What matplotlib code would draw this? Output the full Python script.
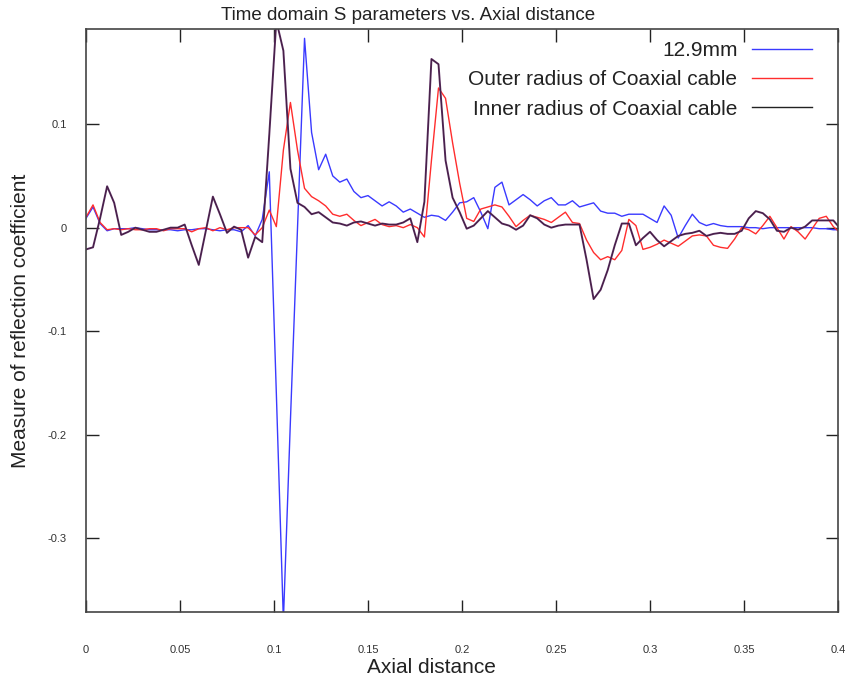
import numpy as np
import matplotlib.pyplot as plt
from matplotlib.lines import Line2D

plt.rcParams['font.family'] = ['Liberation Sans', 'DejaVu Sans']
plt.rcParams['axes.unicode_minus'] = False

# sample spacing of the axial distance (m)
dx = 0.00375
n_pts = 108

# 12.9mm
s_129 = [0.009, 0.020, 0.004, -0.003, -0.001, -0.001, -0.001, 0.000, -0.001, -0.002,
         -0.002, -0.002, -0.002, -0.003, -0.002, -0.002, -0.001, -0.001, -0.002, -0.003,
         -0.002, -0.002, -0.004, 0.002, -0.008, 0.008, 0.054, -0.160, -0.380, -0.186,
         -0.001, 0.183, 0.092, 0.056, 0.071, 0.050, 0.044, 0.047, 0.035, 0.029,
         0.031, 0.026, 0.021, 0.025, 0.021, 0.015, 0.018, 0.014, 0.010, 0.012,
         0.011, 0.007, 0.015, 0.024, 0.025, 0.029, 0.015, -0.001, 0.039, 0.044,
         0.022, 0.027, 0.032, 0.027, 0.021, 0.026, 0.029, 0.022, 0.022, 0.026,
         0.020, 0.022, 0.024, 0.016, 0.014, 0.014, 0.011, 0.013, 0.013, 0.013,
         0.009, 0.005, 0.021, 0.012, -0.010, 0.002, 0.013, 0.005, 0.002, 0.004,
         0.002, 0.001, 0.001, 0.001, 0.000, 0.000, -0.001, 0.000, 0.000, 0.000,
         0.000, 0.000, 0.000, 0.000, -0.001, -0.001, -0.002, -0.002]

# outer radius of coaxial cable
s_outer = [0.010, 0.022, 0.005, -0.002, -0.001, -0.002, -0.001, -0.002, -0.002, -0.001,
           -0.001, -0.003, -0.001, -0.001, -0.001, -0.004, -0.001, 0.000, -0.003, 0.000,
           -0.002, 0.000, 0.000, 0.000, -0.007, 0.000, 0.017, 0.001, 0.075, 0.121,
           0.075, 0.038, 0.030, 0.026, 0.021, 0.013, 0.011, 0.013, 0.007, 0.002,
           0.005, 0.008, 0.003, 0.001, 0.002, 0.000, 0.003, 0.000, -0.009, 0.065,
           0.135, 0.125, 0.082, 0.043, 0.009, 0.006, 0.018, 0.020, 0.022, 0.020,
           0.011, 0.001, 0.007, 0.012, 0.010, 0.008, 0.005, 0.010, 0.015, 0.005,
           0.004, -0.012, -0.024, -0.031, -0.028, -0.031, -0.022, 0.008, 0.002, -0.021,
           -0.019, -0.016, -0.012, -0.015, -0.018, -0.013, -0.008, -0.007, -0.008, -0.017,
           -0.019, -0.020, -0.011, 0.000, -0.002, -0.006, 0.002, 0.011, 0.000, -0.011,
           0.001, -0.004, -0.011, -0.001, 0.009, 0.011, 0.001, -0.005]

# inner radius of coaxial cable
s_inner = [-0.021, -0.019, 0.009, 0.040, 0.024, -0.007, -0.004, 0.000, -0.002, -0.004,
           -0.004, -0.002, 0.000, 0.000, 0.003, -0.017, -0.036, -0.003, 0.030, 0.013,
           -0.005, 0.001, -0.002, -0.029, -0.009, -0.014, 0.090, 0.200, 0.171, 0.057,
           0.024, 0.020, 0.013, 0.015, 0.010, 0.005, 0.004, 0.002, 0.005, 0.006,
           0.004, 0.002, 0.004, 0.003, 0.003, 0.005, 0.009, -0.014, 0.025, 0.163,
           0.158, 0.065, 0.029, 0.015, -0.001, 0.002, 0.009, 0.016, 0.010, 0.004,
           0.002, -0.002, 0.002, 0.012, 0.009, 0.003, 0.000, 0.002, 0.003, 0.003,
           0.003, -0.031, -0.069, -0.060, -0.041, -0.017, 0.004, 0.004, -0.017, -0.010,
           -0.004, -0.012, -0.018, -0.013, -0.008, -0.006, -0.005, -0.003, -0.008, -0.006,
           -0.005, -0.006, -0.006, -0.003, 0.009, 0.016, 0.014, 0.008, -0.003, -0.004,
           0.000, -0.002, 0.001, 0.007, 0.007, 0.007, 0.007, -0.001]

labels = ['12.9mm', 'Outer radius of Coaxial cable', 'Inner radius of Coaxial cable']

x = np.arange(n_pts) * dx

fig = plt.figure(figsize=(8.47, 6.78), dpi=100)
ax = fig.add_axes([0.1015, 0.0973, 0.8879, 0.8599])

ax.plot(x, s_129, color='#3a3aff', lw=1.0)
ax.plot(x, s_outer, color='#ff2d2d', lw=1.0)
ax.plot(x, s_inner, color='#5e2e62', lw=1.4)
ax.plot(x, s_inner, color='#1a0a1a', lw=0.5, alpha=0.5)

ax.set_xlim(0, 0.4)
ax.set_ylim(-0.3715, 0.192)
ax.set_xticks([0, 0.05, 0.1, 0.15, 0.2, 0.25, 0.3, 0.35, 0.4])
ax.set_xticklabels(['0', '0.05', '0.1', '0.15', '0.2', '0.25', '0.3', '0.35', '0.4'])
ax.set_yticks([-0.3, -0.2, -0.1, 0, 0.1])
ax.set_yticklabels(['-0.3', '-0.2', '-0.1', '0', '0.1'])

ax.tick_params(direction='in', length=9, width=1, top=True, right=True,
               labelsize=8, labelcolor='#333333', color='#222222')
ax.tick_params(axis='x', pad=24)
ax.tick_params(axis='y', pad=14)
for sp in ax.spines.values():
    sp.set_color('#444444')
    sp.set_linewidth(1.2)

fig.text(0.482, 0.977, 'Time domain S parameters vs. Axial distance', fontsize=13.5,
         ha='center', va='center', color='#222222')
ax.set_xlabel('Axial distance', fontsize=15, color='#222222')
ax.xaxis.set_label_coords(0.46, -0.078)
ax.set_ylabel('Measure of reflection coefficient', fontsize=15, color='#222222')
ax.yaxis.set_label_coords(-0.074, 0.5)

handles = [Line2D([], [], color='#3a3aff', lw=1.0),
           Line2D([], [], color='#ff2d2d', lw=1.0),
           Line2D([], [], color='#222222', lw=1.0)]
leg = ax.legend(handles, labels, loc='upper right', bbox_to_anchor=(0.977, 0.994),
                borderaxespad=0, frameon=False, markerfirst=False, fontsize=15,
                handlelength=2.9, handletextpad=0.7, labelspacing=0.5)
for t in leg.get_texts():
    t.set_color('#222222')

fig.savefig('out.png', dpi=100)
